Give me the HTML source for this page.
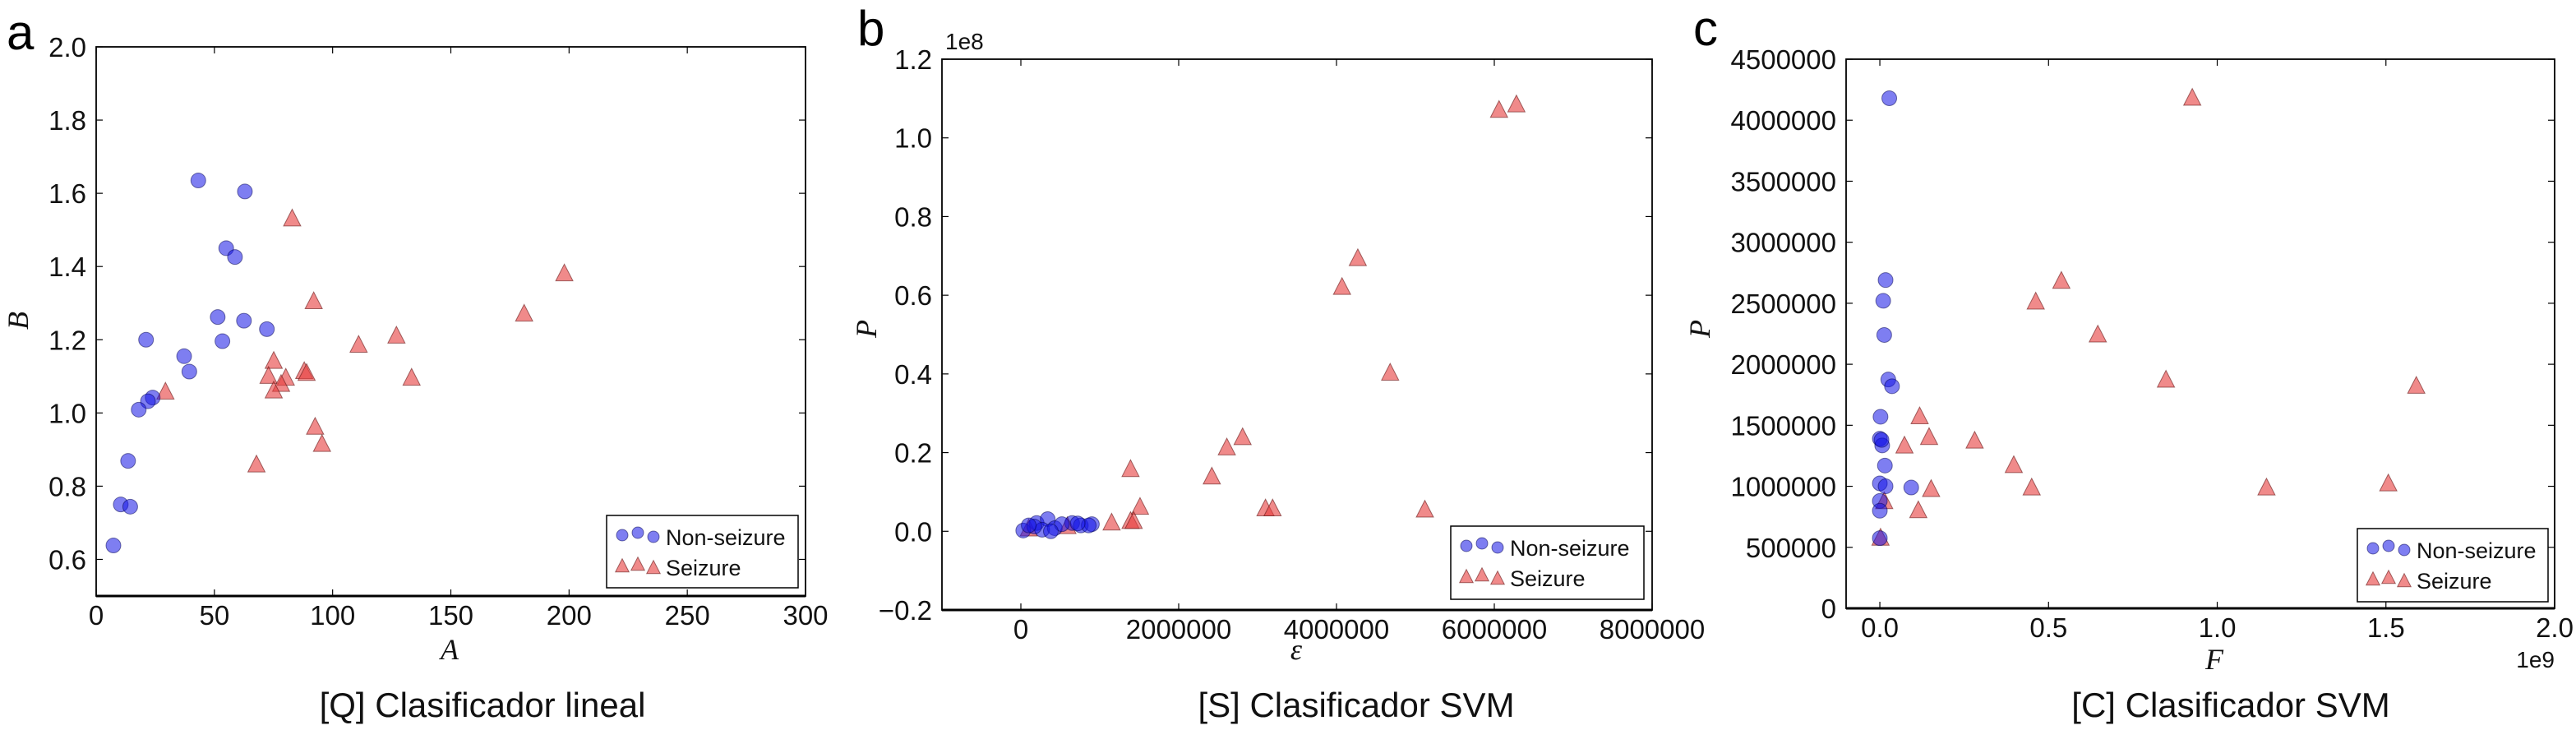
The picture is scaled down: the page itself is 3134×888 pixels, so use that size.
<!DOCTYPE html>
<html><head><meta charset="utf-8"><style>
html,body{margin:0;padding:0;background:#fff;}
svg{display:block;font-family:"Liberation Sans",sans-serif;}
</style></head><body>
<svg id="fig" width="3134" height="888" viewBox="0 0 3134 888" xmlns="http://www.w3.org/2000/svg"></svg>
<script>
// Panel a data
const aBlueX=[43.2,62.9,55,58.7,51.4,62.5,72.2,53.4,21.1,37.2,39.4,23.9,21.9,18,13.5,10.4,14.4,7.3];
const aBlueY=[1.635,1.605,1.45,1.426,1.262,1.252,1.229,1.196,1.2,1.155,1.113,1.042,1.032,1.009,0.869,0.75,0.744,0.638];
const aRedX=[82.9,198,92,181,127,111,75.1,72.9,88,89,80.2,78.2,75.1,133.4,29.3,92.6,95.5,67.8];
const aRedY=[1.53,1.38,1.304,1.27,1.21,1.185,1.141,1.10,1.113,1.108,1.095,1.078,1.06,1.095,1.057,0.961,0.914,0.858];
const aXTicks=["0","50","100","150","200","250","300"];
const aYTicks=["0.6","0.8","1.0","1.2","1.4","1.6","1.8","2.0"];
// Panel b data
const bBlueX=[30000,200000,340000,270000,430000,650000,760000,900000,170000,520000,380000,860000,100000,720000];
const bBlueY=[0.002,0.021,0.031,0.004,0.008,0.021,0.015,0.018,0.012,0.018,0.0,0.015,0.015,0.02];
const bRedX=[6060000,6280000,4270000,4070000,4680000,2810000,2610000,2420000,1390000,1510000,3100000,3190000,5120000,1150000,1390000,1430000,590000,100000];
const bRedY=[1.070,1.084,0.693,0.620,0.402,0.238,0.212,0.138,0.157,0.061,0.057,0.057,0.054,0.021,0.025,0.025,0.012,0.006];
const bXTicks=["0","2000000","4000000","6000000","8000000"];
const bYTicks=["\u22120.2","0.0","0.2","0.4","0.6","0.8","1.0","1.2"];
// Panel c data
const cBlueX=[0.028,0.017,0.010,0.013,0.025,0.036,0.002,0.0,0.007,0.005,0.015,0.0,0.017,0.093,0.0,0.0,0.0];
const cBlueY=[4180000,2690000,2520000,2240000,1875000,1820000,1570000,1390000,1335000,1380000,1170000,1024000,1000000,990000,880000,800000,575000];
const cRedX=[0.926,0.538,0.462,0.646,0.848,1.59,0.118,0.146,0.281,0.073,0.397,0.450,0.152,1.146,1.507,0.114,0.013,0.002];
const cRedY=[4180000,2680000,2510000,2240000,1870000,1820000,1570000,1400000,1370000,1330000,1170000,986000,974000,986000,1020000,800000,874000,575000];
const cXTicks=["0.0","0.5","1.0","1.5","2.0"];
const cYTicks=["0","500000","1000000","1500000","2000000","2500000","3000000","3500000","4000000","4500000"];

const NS="http://www.w3.org/2000/svg";
const svg=document.getElementById('fig');
function mk(tag,attrs,parent,text){const e=document.createElementNS(NS,tag);for(const k in attrs)e.setAttribute(k,attrs[k]);if(text!==undefined)e.textContent=text;(parent||svg).appendChild(e);return e;}
function tri(cx,cy,s){return `${cx},${cy-s*0.62} ${cx-s*0.55},${cy+s*0.45} ${cx+s*0.55},${cy+s*0.45}`;}

function panel(p){
  const g=mk('g',{});
  
  
  const sx=v=>p.L+(v-p.x0)/(p.x1-p.x0)*(p.R-p.L);
  const sy=v=>p.B-(v-p.y0)/(p.y1-p.y0)*(p.B-p.T);
  p.xt.forEach((t,i)=>{const v=p.xtv[i];const x=sx(v);
    mk('line',{x1:x,y1:p.B,x2:x,y2:p.B-8,stroke:'#000','stroke-width':1.2},g);
    mk('line',{x1:x,y1:p.T,x2:x,y2:p.T+8,stroke:'#000','stroke-width':1.2},g);
    const lt=mk('text',{x:x,y:p.B+35,'font-size':33,'text-anchor':'middle',fill:'#111'},g,t);
    
    
  });
  p.yt.forEach((t,i)=>{const v=p.ytv[i];const y=sy(v);
    mk('line',{x1:p.L,y1:y,x2:p.L+8,y2:y,stroke:'#000','stroke-width':1.2},g);
    mk('line',{x1:p.R,y1:y,x2:p.R-8,y2:y,stroke:'#000','stroke-width':1.2},g);
    const lt=mk('text',{x:p.L-12,y:y+12,'font-size':33,'text-anchor':'end',fill:'#111'},g,t);
    
    
  });
  p.rx.forEach((v,i)=>{const m=mk('polygon',{points:tri(sx(v),sy(p.ry[i]),19),fill:'rgba(230,60,60,0.6)',stroke:'rgba(100,20,20,0.6)','stroke-width':1},g);
    
    });
  p.bx.forEach((v,i)=>{const m=mk('circle',{cx:sx(v),cy:sy(p.by[i]),r:9,fill:'rgba(20,20,230,0.55)',stroke:'rgba(0,0,80,0.5)','stroke-width':1},g);
    
    });
  const fr=mk('rect',{x:p.L,y:p.T,width:p.R-p.L,height:p.B-p.T,fill:'none',stroke:'#000','stroke-width':1.8},g);
  
  
  mk('line',{x1:p.L,y1:p.B,x2:p.R,y2:p.B,stroke:'#000','stroke-width':3},g);
  const lg=mk('g',{},g);
  
  
  const [lx,ly,lw,lh]=p.leg;
  mk('rect',{x:lx,y:ly,width:lw,height:lh,fill:'#fff',stroke:'#000','stroke-width':1.5},lg);
  [[lx+19,ly+24],[lx+38,ly+21],[lx+57,ly+26]].forEach(c=>mk('circle',{cx:c[0],cy:c[1],r:7,fill:'rgba(20,20,230,0.55)',stroke:'rgba(0,0,80,0.5)'},lg));
  [[lx+19,ly+62],[lx+38,ly+60],[lx+57,ly+64]].forEach(c=>mk('polygon',{points:tri(c[0],c[1],15),fill:'rgba(230,60,60,0.6)',stroke:'rgba(100,20,20,0.6)'},lg));
  const t1=mk('text',{x:lx+72,y:ly+36,'font-size':27,fill:'#111'},lg,'Non-seizure');
  
  
  const t2=mk('text',{x:lx+72,y:ly+73,'font-size':27,fill:'#111'},lg,'Seizure');
  
  
}

panel({name:'panel-a',L:117,R:980,T:57,B:725,x0:0,x1:300,y0:0.5,y1:2.0,
  xt:aXTicks,xtv:aXTicks.map(Number),yt:aYTicks,ytv:aYTicks.map(Number),
  bx:aBlueX,by:aBlueY,rx:aRedX,ry:aRedY,leg:[738,627,233,88]});
panel({name:'panel-b',L:1146,R:2010,T:72,B:742,x0:-1000000,x1:8000000,y0:-0.2,y1:1.2,
  xt:bXTicks,xtv:bXTicks.map(Number),yt:bYTicks,ytv:[-0.2,0,0.2,0.4,0.6,0.8,1.0,1.2],
  bx:bBlueX,by:bBlueY,rx:bRedX,ry:bRedY,leg:[1765,640,235,89]});
panel({name:'panel-c',L:2246,R:3108,T:72,B:740,x0:-0.1,x1:2.0,y0:0,y1:4500000,
  xt:cXTicks,xtv:cXTicks.map(Number),yt:cYTicks,ytv:cYTicks.map(Number),
  bx:cBlueX,by:cBlueY,rx:cRedX,ry:cRedY,leg:[2868,643,232,89]});

function txt(x,y,s,attrs,name){const e=mk('text',Object.assign({x:x,y:y},attrs),svg,s);
  
  return e;}
const serif={'font-family':'"Liberation Serif",serif','font-style':'italic','font-size':36,'text-anchor':'middle',fill:'#111'};
txt(8,60,'a',{'font-size':60,fill:'#000'},'panel-letter-a');
txt(1043,55,'b',{'font-size':60,fill:'#000'},'panel-letter-b');
txt(2060,55,'c',{'font-size':60,fill:'#000'},'panel-letter-c');
txt(1150,60,'1e8',{'font-size':28,fill:'#111'},'y-offset-label');
txt(3108,812,'1e9',{'font-size':28,fill:'#111','text-anchor':'end'},'x-offset-label');
txt(547,802,'A',serif,'x-axis-title-a');
txt(1577,802,'\u03b5',serif,'x-axis-title-b');
txt(2694,814,'F',serif,'x-axis-title-c');
txt(0,0,'B',Object.assign({},serif,{transform:'translate(34,390) rotate(-90)'}),'y-axis-title-a');
txt(0,0,'P',Object.assign({},serif,{transform:'translate(1066,400) rotate(-90)'}),'y-axis-title-b');
txt(0,0,'P',Object.assign({},serif,{transform:'translate(2080,400) rotate(-90)'}),'y-axis-title-c');
txt(587,872,'[Q] Clasificador lineal',{'font-size':42,'text-anchor':'middle',fill:'#111'},'subtitle-a');
txt(1650,872,'[S] Clasificador SVM',{'font-size':42,'text-anchor':'middle',fill:'#111'},'subtitle-b');
txt(2714,872,'[C] Clasificador SVM',{'font-size':42,'text-anchor':'middle',fill:'#111'},'subtitle-c');
</script>
</body></html>
